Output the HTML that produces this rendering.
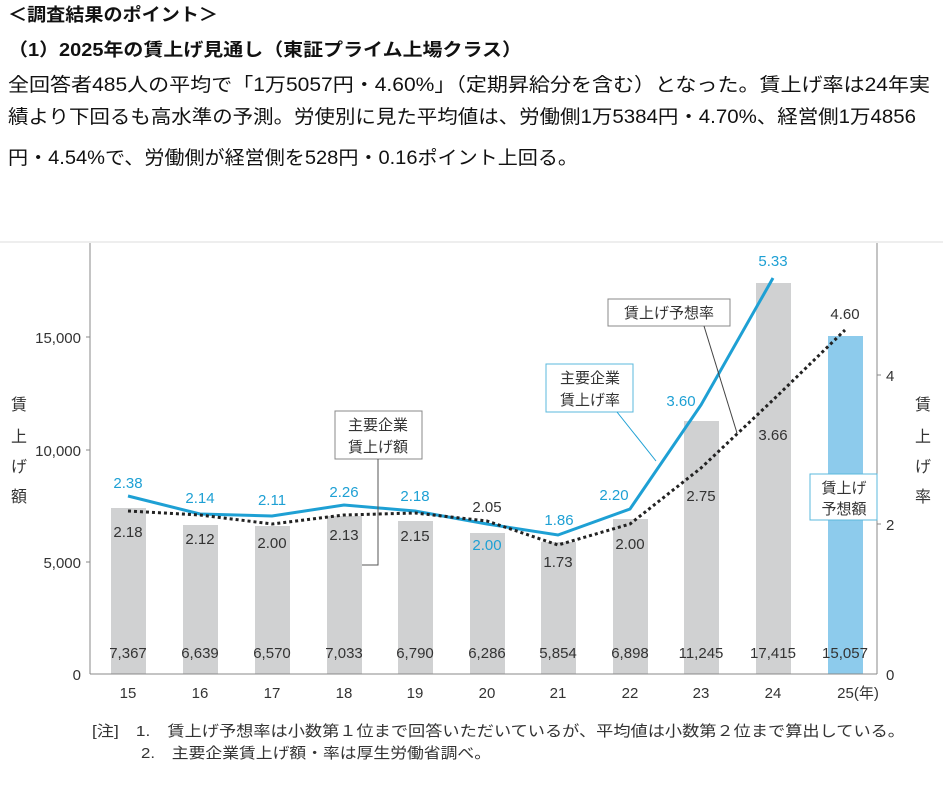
<!DOCTYPE html>
<html><head><meta charset="utf-8"><style>
body{margin:0;background:#fff;width:943px;height:802px;overflow:hidden;font-family:"Liberation Sans","Noto Sans CJK JP",sans-serif;color:#222}
</style></head><body>
<svg width="943" height="802" style="position:absolute;left:0;top:0" font-family="Liberation Sans, Noto Sans CJK JP, sans-serif">
<g fill="#111">
<text x="8" y="21" font-size="18" font-weight="bold" textLength="210" lengthAdjust="spacingAndGlyphs">＜調査結果のポイント＞</text>
<text x="8" y="56" font-size="18" font-weight="bold" textLength="514" lengthAdjust="spacingAndGlyphs">（1）2025年の賃上げ見通し（東証プライム上場クラス）</text>
<text x="8" y="91" font-size="19" textLength="922" lengthAdjust="spacingAndGlyphs">全回答者485人の平均で「1万5057円・4.60%」（定期昇給分を含む）となった。賃上げ率は24年実</text>
<text x="8" y="123" font-size="19" textLength="908" lengthAdjust="spacingAndGlyphs">績より下回るも高水準の予測。労使別に見た平均値は、労働側1万5384円・4.70%、経営側1万4856</text>
<text x="8" y="164" font-size="19" textLength="570" lengthAdjust="spacingAndGlyphs">円・4.54%で、労働側が経営側を528円・0.16ポイント上回る。</text>
</g>
<line x1="0" y1="242" x2="943" y2="242" stroke="#ddd"/>
<g fill="#d0d1d2">
<rect x="111" y="508" width="35" height="166"/><rect x="183" y="525" width="35" height="149"/><rect x="255" y="526" width="35" height="148"/><rect x="327" y="516" width="35" height="158"/><rect x="398" y="521" width="35" height="153"/><rect x="470" y="533" width="35" height="141"/><rect x="541" y="542" width="35" height="132"/><rect x="613" y="519" width="35" height="155"/><rect x="684" y="421" width="35" height="253"/><rect x="756" y="283" width="35" height="391"/>
</g>
<rect x="828" y="336" width="35" height="338" fill="#8dcbec"/>
<g stroke="#888" fill="none"><line x1="90" y1="243" x2="90" y2="674"/><line x1="877" y1="243" x2="877" y2="674"/><line x1="90" y1="674" x2="877" y2="674"/>
<line x1="86" y1="337" x2="90" y2="337"/><line x1="86" y1="450" x2="90" y2="450"/><line x1="86" y1="562" x2="90" y2="562"/>
<line x1="877" y1="375" x2="881" y2="375"/><line x1="877" y1="524" x2="881" y2="524"/></g>
<g font-size="15" fill="#333" text-anchor="end"><text x="81" y="343">15,000</text><text x="81" y="456">10,000</text><text x="81" y="568">5,000</text><text x="81" y="680">0</text></g>
<g font-size="15" fill="#333"><text x="886" y="381">4</text><text x="886" y="530">2</text><text x="886" y="680">0</text></g>
<g font-size="16" fill="#333" text-anchor="middle"><text x="19" y="410">賃</text><text x="19" y="442">上</text><text x="19" y="472">げ</text><text x="19" y="502">額</text>
<text x="923" y="410">賃</text><text x="923" y="442">上</text><text x="923" y="472">げ</text><text x="923" y="502">率</text></g>
<polyline points="128,496 200,514 272,516 344,505 415,511 487,524 558,535 630,509 701,405 773,278" fill="none" stroke="#1ea0d4" stroke-width="3"/>
<polyline points="128,511 200,515 272,524 344,515 415,513 487,521 558,545 630,524 701,468 773,400 845,330" fill="none" stroke="#222" stroke-width="3" stroke-dasharray="3,3"/>
<g font-size="15" fill="#1ea0d4" text-anchor="middle"><text x="128" y="488">2.38</text><text x="200" y="503">2.14</text><text x="272" y="505">2.11</text><text x="344" y="497">2.26</text><text x="415" y="501">2.18</text><text x="487" y="550">2.00</text><text x="559" y="525">1.86</text><text x="614" y="500">2.20</text><text x="681" y="406">3.60</text><text x="773" y="266">5.33</text></g>
<g font-size="15" fill="#333" text-anchor="middle"><text x="128" y="537">2.18</text><text x="200" y="544">2.12</text><text x="272" y="548">2.00</text><text x="344" y="540">2.13</text><text x="415" y="541">2.15</text><text x="487" y="512">2.05</text><text x="558" y="567">1.73</text><text x="630" y="549">2.00</text><text x="701" y="501">2.75</text><text x="773" y="440">3.66</text><text x="845" y="319">4.60</text></g>
<g font-size="15" fill="#333" text-anchor="middle"><text x="128" y="658">7,367</text><text x="200" y="658">6,639</text><text x="272" y="658">6,570</text><text x="344" y="658">7,033</text><text x="415" y="658">6,790</text><text x="487" y="658">6,286</text><text x="558" y="658">5,854</text><text x="630" y="658">6,898</text><text x="701" y="658">11,245</text><text x="773" y="658">17,415</text><text x="845" y="658">15,057</text></g>
<g font-size="15" fill="#333" text-anchor="middle"><text x="128" y="698">15</text><text x="200" y="698">16</text><text x="272" y="698">17</text><text x="344" y="698">18</text><text x="415" y="698">19</text><text x="487" y="698">20</text><text x="558" y="698">21</text><text x="630" y="698">22</text><text x="701" y="698">23</text><text x="773" y="698">24</text><text x="858" y="698">25(年)</text></g>
<rect x="335" y="411" width="87" height="48" fill="#fff" stroke="#888"/>
<g font-size="15" fill="#333" text-anchor="middle"><text x="378" y="430">主要企業</text><text x="378" y="452">賃上げ額</text></g>
<polyline points="378,459 378,565 362,565" fill="none" stroke="#555"/>
<rect x="546" y="364" width="87" height="48" fill="#fff" stroke="#5bb8dc"/>
<g font-size="15" fill="#333" text-anchor="middle"><text x="590" y="383">主要企業</text><text x="590" y="405">賃上げ率</text></g>
<line x1="617" y1="412" x2="656" y2="461" stroke="#1ea0d4"/>
<rect x="608" y="299" width="122" height="27" fill="#fff" stroke="#888"/>
<text x="669" y="318" font-size="15" fill="#333" text-anchor="middle">賃上げ予想率</text>
<line x1="704" y1="326" x2="737" y2="433" stroke="#444"/>
<rect x="810" y="474" width="67" height="46" fill="#fff" stroke="#5bb8dc"/>
<g font-size="15" fill="#333" text-anchor="middle"><text x="844" y="493">賃上げ</text><text x="844" y="514">予想額</text></g>
<g font-size="15" fill="#333"><text x="92" y="736" textLength="813" lengthAdjust="spacingAndGlyphs">[注]　1.　賃上げ予想率は小数第１位まで回答いただいているが、平均値は小数第２位まで算出している。</text><text x="141" y="758" textLength="350" lengthAdjust="spacingAndGlyphs">2.　主要企業賃上げ額・率は厚生労働省調べ。</text></g>
</svg>
</body></html>
